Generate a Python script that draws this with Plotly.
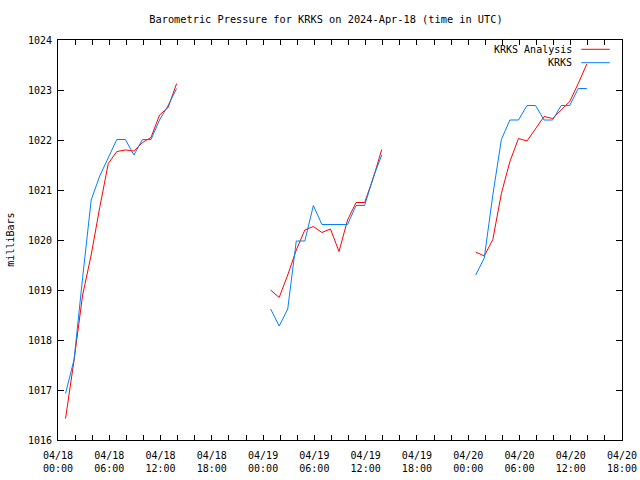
import plotly.graph_objects as go

# observation / analysis times (UTC)
times_day1 = ["2024-04-18 00:53", "2024-04-18 01:53", "2024-04-18 02:53", "2024-04-18 03:53",
              "2024-04-18 04:53", "2024-04-18 05:53", "2024-04-18 06:53", "2024-04-18 07:53",
              "2024-04-18 08:53", "2024-04-18 09:53", "2024-04-18 10:53", "2024-04-18 11:53",
              "2024-04-18 12:53", "2024-04-18 13:53"]
times_day2 = ["2024-04-19 00:53", "2024-04-19 01:53", "2024-04-19 02:53", "2024-04-19 03:53",
              "2024-04-19 04:53", "2024-04-19 05:53", "2024-04-19 06:53", "2024-04-19 07:53",
              "2024-04-19 08:53", "2024-04-19 09:53", "2024-04-19 10:53", "2024-04-19 11:53",
              "2024-04-19 12:53", "2024-04-19 13:53"]
times_day3 = ["2024-04-20 00:53", "2024-04-20 01:53", "2024-04-20 02:53", "2024-04-20 03:53",
              "2024-04-20 04:53", "2024-04-20 05:53", "2024-04-20 06:53", "2024-04-20 07:53",
              "2024-04-20 08:53", "2024-04-20 09:53", "2024-04-20 10:53", "2024-04-20 11:53",
              "2024-04-20 12:53", "2024-04-20 13:53"]

analysis_day1 = [1016.43, 1017.6, 1018.9, 1019.7, 1020.65, 1021.53, 1021.77, 1021.8,
                 1021.78, 1021.95, 1022.05, 1022.5, 1022.65, 1023.13]
analysis_day2 = [1019.0, 1018.85, 1019.3, 1019.8, 1020.2, 1020.27, 1020.15, 1020.22,
                 1019.77, 1020.4, 1020.75, 1020.75, 1021.23, 1021.81]
analysis_day3 = [1019.76, 1019.68, 1020.01, 1020.93, 1021.57, 1022.03, 1021.98, 1022.23,
                 1022.47, 1022.43, 1022.6, 1022.77, 1023.13, 1023.52]

obs_day1 = [1016.93, 1017.61, 1019.25, 1020.8, 1021.28, 1021.65, 1022.01, 1022.01,
            1021.7, 1022.01, 1022.01, 1022.4, 1022.69, 1023.03]
obs_day2 = [1018.62, 1018.28, 1018.62, 1019.98, 1019.98, 1020.69, 1020.31, 1020.31,
            1020.31, 1020.31, 1020.69, 1020.69, 1021.25, 1021.7]
obs_day3 = [1019.3, 1019.64, 1020.9, 1022.01, 1022.4, 1022.4, 1022.69, 1022.69,
            1022.4, 1022.4, 1022.69, 1022.69, 1023.03, 1023.03]

tick_times = ["2024-04-18 00:00", "2024-04-18 02:00", "2024-04-18 04:00", "2024-04-18 06:00",
              "2024-04-18 08:00", "2024-04-18 10:00", "2024-04-18 12:00", "2024-04-18 14:00",
              "2024-04-18 16:00", "2024-04-18 18:00", "2024-04-18 20:00", "2024-04-18 22:00",
              "2024-04-19 00:00", "2024-04-19 02:00", "2024-04-19 04:00", "2024-04-19 06:00",
              "2024-04-19 08:00", "2024-04-19 10:00", "2024-04-19 12:00", "2024-04-19 14:00",
              "2024-04-19 16:00", "2024-04-19 18:00", "2024-04-19 20:00", "2024-04-19 22:00",
              "2024-04-20 00:00", "2024-04-20 02:00", "2024-04-20 04:00", "2024-04-20 06:00",
              "2024-04-20 08:00", "2024-04-20 10:00", "2024-04-20 12:00", "2024-04-20 14:00",
              "2024-04-20 16:00", "2024-04-20 18:00"]
tick_labels = ["04/18<br>00:00", "", "", "04/18<br>06:00", "", "", "04/18<br>12:00", "", "",
               "04/18<br>18:00", "", "", "04/19<br>00:00", "", "", "04/19<br>06:00", "", "",
               "04/19<br>12:00", "", "", "04/19<br>18:00", "", "", "04/20<br>00:00", "", "",
               "04/20<br>06:00", "", "", "04/20<br>12:00", "", "", "04/20<br>18:00"]

y_ticks = [1016, 1017, 1018, 1019, 1020, 1021, 1022, 1023, 1024]

series_names = ["KRKS Analysis", "KRKS"]
series_colors = ["#ff0000", "#0080ff"]

FONT = "DejaVu Sans Mono"

W, H = 640, 480
PL, PR, PT, PB = 58.3, 621.7, 40.0, 440.0  # plot box in pixels
PW, PH = PR - PL, PB - PT


def joined(times_list, values_list):
    xs, ys = [], []
    for t, v in zip(times_list, values_list):
        xs += t + [None]
        ys += v + [None]
    return xs, ys


ax, ay = joined([times_day1, times_day2, times_day3], [analysis_day1, analysis_day2, analysis_day3])
bx, by = joined([times_day1, times_day2, times_day3], [obs_day1, obs_day2, obs_day3])

fig = go.Figure()
fig.add_trace(go.Scatter(x=ax, y=ay, mode="lines", name=series_names[0],
                         line=dict(color=series_colors[0], width=1), connectgaps=False))
fig.add_trace(go.Scatter(x=bx, y=by, mode="lines", name=series_names[1],
                         line=dict(color=series_colors[1], width=1), connectgaps=False))

fig.update_layout(
    width=W, height=H,
    margin=dict(l=PL, r=W - PR, t=PT, b=H - PB, pad=0, autoexpand=False),
    paper_bgcolor="white", plot_bgcolor="white",
    showlegend=False,
    font=dict(family=FONT, size=10, color="black"),
    title=dict(text="Barometric Pressure for KRKS on 2024-Apr-18 (time in UTC)",
               x=326 / W, xanchor="center", y=1 - 19 / H, yanchor="middle",
               font=dict(family=FONT, size=10.3, color="black")),
)

fig.update_xaxes(
    type="date", range=["2024-04-18 00:00", "2024-04-20 18:00"],
    tickmode="array", tickvals=tick_times, ticktext=tick_labels,
    ticks="inside", ticklen=5, tickcolor="black", tickwidth=1,
    showline=True, linecolor="black", linewidth=1, mirror="ticks",
    showgrid=False, zeroline=False, ticklabelstandoff=6, automargin=False,
    tickfont=dict(family=FONT, size=10, color="black"),
)
fig.update_yaxes(
    range=[1016, 1024], tickmode="array", tickvals=y_ticks,
    ticktext=[str(v) for v in y_ticks],
    ticks="inside", ticklen=6, tickcolor="black", tickwidth=1,
    showline=True, linecolor="black", linewidth=1, mirror="ticks",
    showgrid=False, zeroline=False, ticklabelstandoff=3, automargin=False,
    tickfont=dict(family=FONT, size=10, color="black"),
)

# y-axis title
fig.add_annotation(text="milliBars", xref="paper", yref="paper",
                   x=(10 - PL) / PW, y=0.5, textangle=-90, showarrow=False,
                   xanchor="center", yanchor="middle",
                   font=dict(family=FONT, size=10, color="black"))

# gnuplot-style key (text right-aligned, sample to the right)
key_rows = [(49.3, 0), (62.7, 1)]
for py, i in key_rows:
    yp = (PB - py) / PH
    fig.add_annotation(text=series_names[i], xref="paper", yref="paper",
                       x=(574 - PL) / PW, y=yp, xanchor="right", yanchor="middle",
                       showarrow=False, font=dict(family=FONT, size=10, color="black"))
    fig.add_shape(type="line", xref="paper", yref="paper",
                  x0=(581 - PL) / PW, x1=(609.5 - PL) / PW, y0=yp, y1=yp,
                  line=dict(color=series_colors[i], width=1))

# remove the browser's default page margin so the 640x480 figure fills the window
fig.write_html("out.html",
               config={"displayModeBar": False, "staticPlot": True},
               post_script="document.body.style.margin='0';document.body.style.overflow='hidden';")
